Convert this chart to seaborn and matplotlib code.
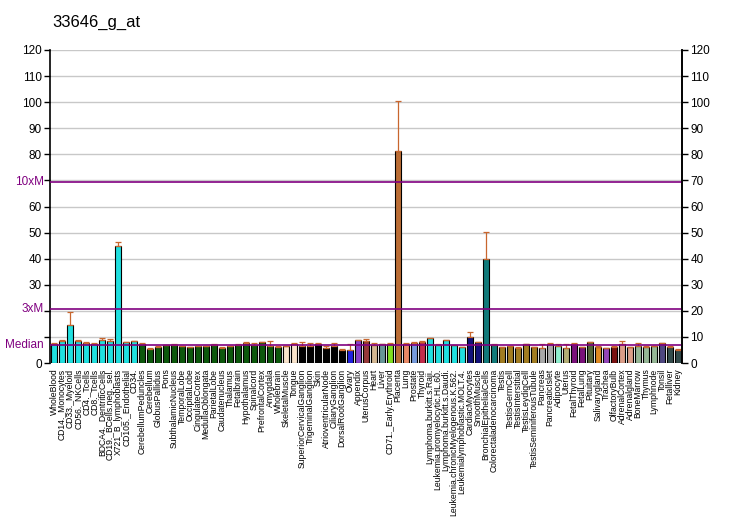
import numpy as np
import pandas as pd
import matplotlib
matplotlib.use("Agg")
import matplotlib.pyplot as plt
import seaborn as sns

# tissue names as printed under the bars
tissues = [
    "WholeBlood", "CD14._Monocytes", "CD33._Myeloid", "CD56._NKCells", "CD4._Tcells",
    "CD8._Tcells", "BDCA4._DentriticCells", "CD19._BCells.neg._sel.", "X721_B_lymphoblasts",
    "CD105._Endothelial", "CD34.", "CerebellumPeduncles", "Cerebellum", "GlobusPallidus",
    "Pons", "SubthalamicNucleus", "TemporalLobe", "OccipitalLobe", "CingulateCortex",
    "MedullaOblongata", "ParietalLobe", "Caudatenucleus", "Thalamus", "Fetalbrain",
    "Hypothalamus", "Spinalcord", "PrefrontalCortex", "Amygdala", "Wholebrain",
    "SkeletalMuscle", "Tongue", "SuperiorCervicalGanglion", "TrigeminalGanglion", "Skin",
    "AtrioventricularNode", "CiliaryGanglion", "DorsalRootGanglion", "Ovary", "Appendix",
    "UterusCorpus", "Heart", "Liver", "CD71._Early.Erythroid", "Placenta", "Lung",
    "Prostate", "Thyroid", "Lymphoma.burkitt.s.Raji.", "Leukemia.promyelocytic.HL.60.",
    "Lymphoma.burkitt.s.Daudi.", "Leukemia.chronicMyelogenous.K.562.",
    "Leukemialymphoblastic.MOLT.4.", "CardiacMyocytes", "SmoothMuscle",
    "BronchialEpithelialCells", "Colorectaladenocarcinoma", "Testis", "TestisGermCell",
    "TestisInterstitial", "TestisLeydigCell", "TestisSeminiferousTubule", "Pancreas",
    "PancreaticIslet", "Adipocyte", "Uterus", "FetalThyroid", "FetalLung", "Pituitary",
    "Salivarygland", "Trachea", "OlfactoryBulb", "AdrenalCortex", "Adrenalgland",
    "BoneMarrow", "Thymus", "Lymphnode", "Tonsil", "Fetalliver", "Kidney",
]

values = [
    7.2, 8.6, 14.6, 8.4, 7.7, 7.3, 8.7, 8.4, 44.9, 7.9, 8.3,
    7.4, 5.4, 6.0, 6.8, 7.0, 6.5, 6.1, 6.5, 6.5, 6.9, 5.8, 6.5, 6.9, 7.7, 6.9, 7.9, 6.6, 6.1,
    6.5, 7.2, 6.6, 6.6, 7.3, 5.8, 6.6, 5.1, 4.9, 8.7, 8.3, 6.8, 7.2, 7.4, 81.3, 7.2,
    7.7, 8.0, 9.5, 7.0, 8.7, 6.8, 6.1, 10.0, 7.9, 39.9, 7.0, 6.1, 6.4, 5.6, 7.2, 6.1,
    5.6, 7.2, 6.5, 5.6, 7.2, 6.1, 7.9, 6.1, 5.6, 6.1, 7.2, 6.1, 6.4, 6.1, 6.4, 7.5, 6.1, 4.9,
]

# top of the error whisker
err_top = [
    7.8, 8.8, 19.4, 8.8, 8.0, 7.5, 9.4, 9.1, 46.4, 7.9, 8.3,
    7.7, 5.6, 6.4, 6.8, 7.3, 6.5, 6.1, 6.5, 6.5, 7.3, 6.0, 6.5, 7.3, 8.1, 7.5, 7.9, 8.3, 6.5,
    6.5, 7.5, 8.2, 7.5, 7.5, 6.4, 7.5, 5.4, 7.2, 8.7, 9.1, 7.5, 7.2, 7.7, 100.4, 7.5,
    8.0, 8.4, 9.7, 7.3, 8.7, 6.8, 6.1, 11.9, 7.9, 50.2, 7.3, 6.1, 6.4, 6.1, 7.2, 6.1,
    7.2, 7.5, 7.2, 7.2, 7.5, 6.1, 7.9, 6.4, 5.6, 6.4, 8.3, 6.1, 7.5, 6.4, 6.4, 7.5, 6.4, 5.2,
]

colors = (
    ["#00FFFF"] * 11 + ["#006400"] * 18 + ["#FFE4C4"] * 2 + ["#000000"] * 6
    + ["#0000FF", "#8A2BE2", "#A52A2A", "#DEB887", "#5F9EA0", "#7FFF00", "#D2691E",
       "#FF7F50", "#6495ED", "#DC143C"]
    + ["#00FFFF"] * 5 + ["#00008B"] * 2 + ["#008B8B"] * 2 + ["#B8860B"] * 5
    + ["#A9A9A9"] * 2
    + ["#7FFFD4", "#BDB76B", "#8B008B", "#8B008B", "#556B2F", "#FF8C00", "#9932CC",
       "#8B0000", "#E9967A", "#E9967A", "#8FBC8F", "#8FBC8F", "#8FBC8F", "#483D8B",
       "#2F4F4F", "#2F4F4F"]
)

median = 6.93
title = "33646_g_at"

df = pd.DataFrame({"tissue": tissues, "value": values})

plt.rcParams["font.family"] = ["Liberation Sans", "DejaVu Sans"]
fig = plt.figure(figsize=(7.32, 5.30), dpi=100)
ax = fig.add_axes([50 / 732, 1 - 363 / 530, 632 / 732, 313 / 530])

sns.barplot(data=df, x="tissue", y="value", hue="tissue", palette=colors,
            legend=False, edgecolor="black", linewidth=0.8, width=0.8, ax=ax)

# only the upper half of the error bar is drawn
xs = np.arange(len(tissues))
upper = np.array(err_top) - np.array(values)
ax.errorbar(xs, values, yerr=[np.zeros(len(xs)), upper], fmt="none",
            ecolor="#C8662E", elinewidth=0.9, capsize=2.5, capthick=0.9, zorder=1)

ax.set_xlim(-0.5, len(tissues) - 0.5)
ax.set_ylim(0, 120)
ax.set_yticks(np.arange(0, 121, 10))
ax.yaxis.grid(True, color="#C8C8C8", linewidth=1)
ax.set_axisbelow(True)
for s in ["top", "bottom"]:
    ax.spines[s].set_visible(False)
ax.spines["left"].set_linewidth(1.2)
ax.spines["right"].set_visible(True)
ax.spines["right"].set_linewidth(1.2)

ax.set_xlabel("")
ax.set_ylabel("")
ax.tick_params(axis="x", length=0, labelsize=6.2, rotation=90, pad=4)
ax.tick_params(axis="y", length=4, width=1, labelsize=8.5, pad=2)

left_labels = [str(v) if v not in (10, 20, 70) else "" for v in range(0, 121, 10)]
ax.set_yticklabels(left_labels)

ax2 = ax.twinx()
ax2.set_ylim(0, 120)
ax2.set_yticks(np.arange(0, 121, 10))
ax2.tick_params(axis="y", length=4, width=1, labelsize=8.5, pad=2)
for s in ["top", "bottom", "left"]:
    ax2.spines[s].set_visible(False)
ax2.spines["right"].set_linewidth(1.2)

# reference lines at median, 3x and 10x median
purple = "#800080"
for mult, lab in [(1, "Median"), (3, "3xM"), (10, "10xM")]:
    ax.axhline(median * mult, color=purple, linewidth=1.2, zorder=3)
    ax.text(-0.01, median * mult, lab, transform=ax.get_yaxis_transform(),
            ha="right", va="center", color=purple, fontsize=8.5)

fig.text(52 / 732, 1 - 22 / 530, title, fontsize=12, ha="left", va="center")

fig.savefig("out.png", dpi=100)
